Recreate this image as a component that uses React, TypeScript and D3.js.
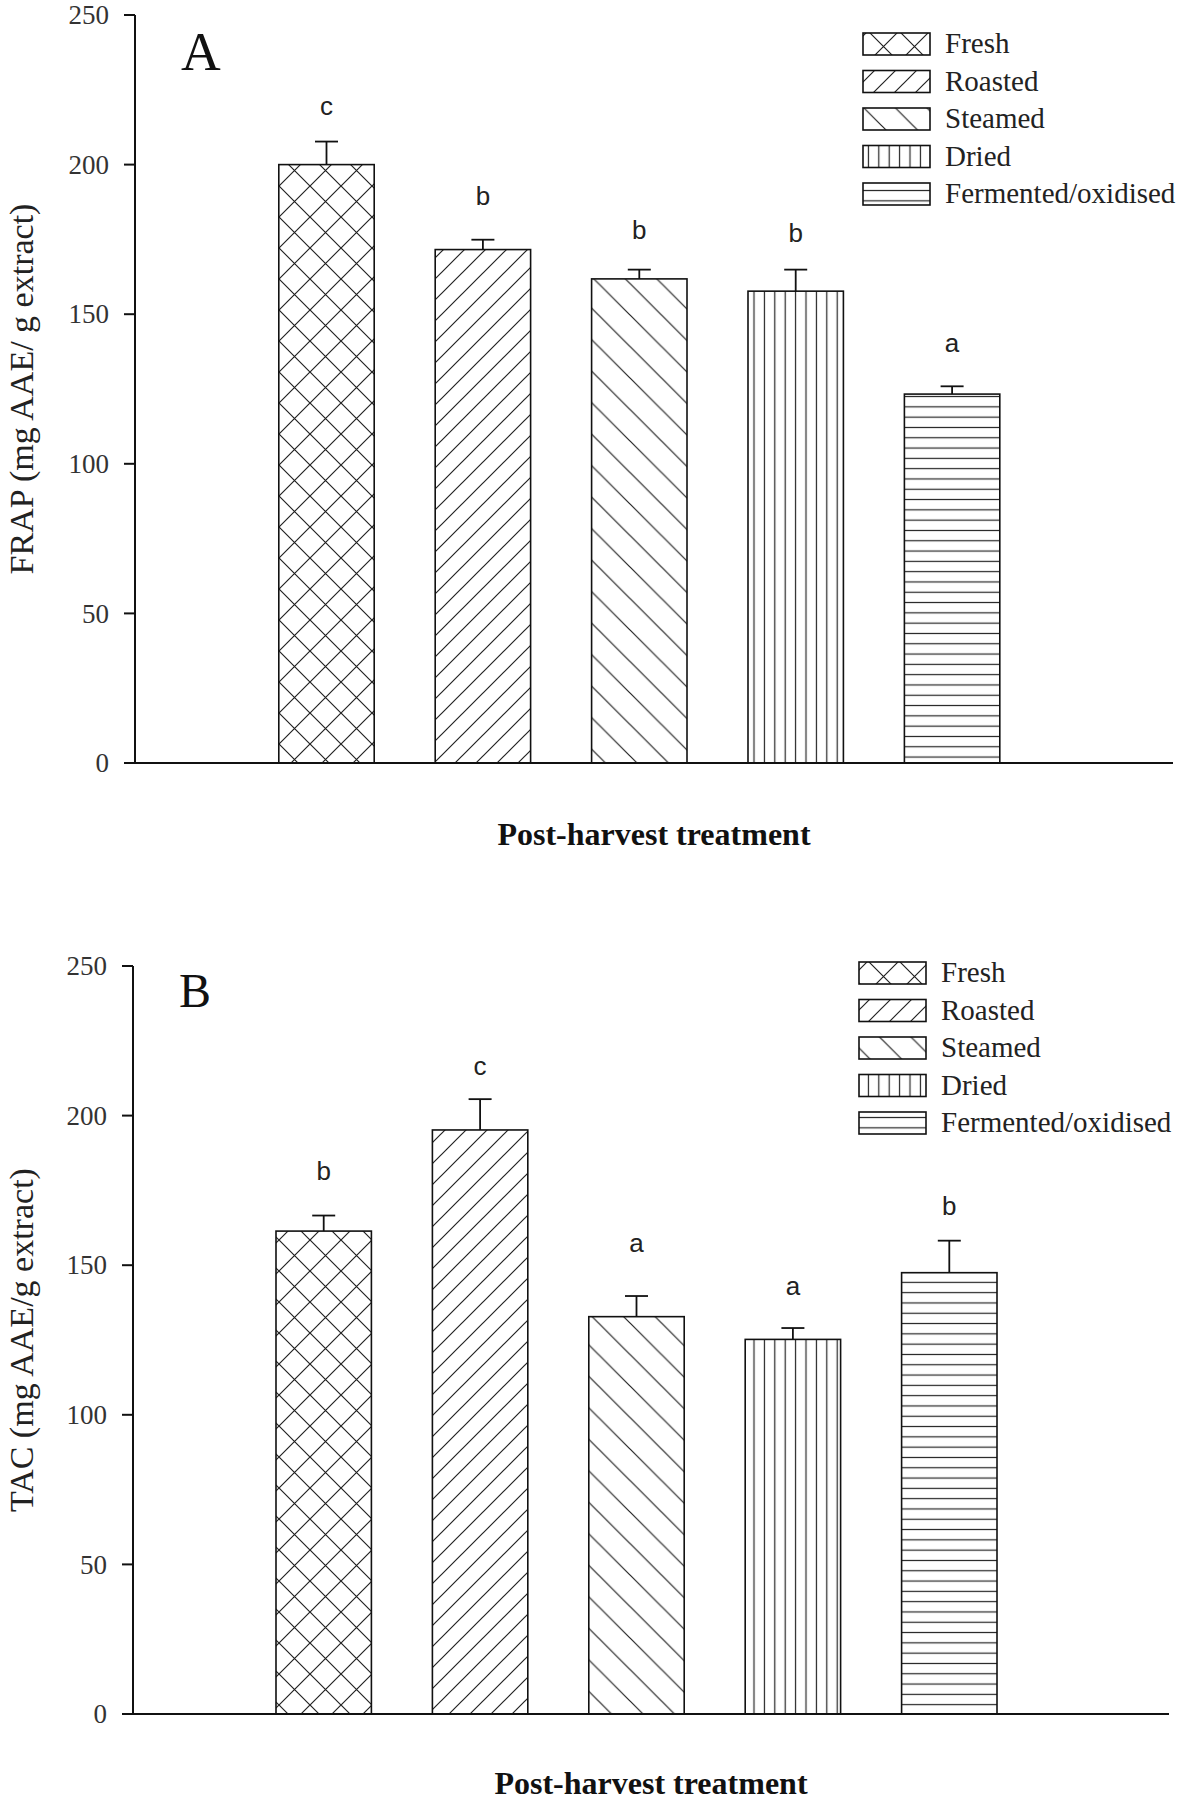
import React from "react";
import * as d3 from "d3";

const categories = ["Fresh", "Roasted", "Steamed", "Dried", "Fermented/oxidised"];
const patternIds = ["patCross", "patFwd", "patBack", "patVert", "patHoriz"];

const frapMeans = [200, 171.6, 161.8, 157.7, 123.3];
const frapErr = [7.7, 3.3, 3.1, 7.2, 2.6];
const frapLetters = ["c", "b", "b", "b", "a"];
const frapLetterAt = [216.6, 186.5, 175.1, 174.1, 137.4];

const tacMeans = [161.4, 195.2, 132.8, 125.2, 147.5];
const tacErr = [5.2, 10.3, 6.9, 3.8, 10.7];
const tacLetters = ["b", "c", "a", "a", "b"];
const tacLetterAt = [178.5, 213.6, 154.4, 140.0, 166.8];

const yTicks = [0, 50, 100, 150, 200, 250];

const SERIF = "'Liberation Serif', 'Times New Roman', serif";
const SANS = "'Liberation Sans', Arial, sans-serif";

function Patterns() {
  const ink = "#222";
  const sw = 1.2;
  const pc = 31;
  const pf = 21;
  const pb = 31.5;
  const diagF = (p: number) =>
    `M0,${p} L${p},0 M${-p / 4},${p / 4} L${p / 4},${-p / 4} M${(3 * p) / 4},${(5 * p) / 4} L${(5 * p) / 4},${(3 * p) / 4}`;
  const diagB = (p: number) =>
    `M0,0 L${p},${p} M${-p / 4},${(3 * p) / 4} L${p / 4},${(5 * p) / 4} M${(3 * p) / 4},${-p / 4} L${(5 * p) / 4},${p / 4}`;
  return (
    <defs>
      <pattern id="patCross" patternUnits="userSpaceOnUse" width={pc} height={pc}>
        <path d={diagF(pc) + " " + diagB(pc)} stroke={ink} strokeWidth={sw} fill="none" />
      </pattern>
      <pattern id="patFwd" patternUnits="userSpaceOnUse" width={pf} height={pf}>
        <path d={diagF(pf)} stroke={ink} strokeWidth={sw} fill="none" />
      </pattern>
      <pattern id="patBack" patternUnits="userSpaceOnUse" width={pb} height={pb}>
        <path d={diagB(pb)} stroke={ink} strokeWidth={sw} fill="none" />
      </pattern>
      <pattern id="patVert" patternUnits="userSpaceOnUse" width={10.4} height={10}>
        <path d="M5.2,0 L5.2,10" stroke={ink} strokeWidth={sw} fill="none" />
      </pattern>
      <pattern id="patHoriz" patternUnits="userSpaceOnUse" width={10} height={10.3}>
        <path d="M0,5.15 L10,5.15" stroke={ink} strokeWidth={sw} fill="none" />
      </pattern>
    </defs>
  );
}

type PanelProps = {
  label: string;
  labelSize: number;
  labelX: number;
  labelY: number;
  yTitle: string;
  means: number[];
  errs: number[];
  letters: string[];
  letterAt: number[];
  yTop: number;
  yBottom: number;
  axisX: number;
  axisEnd: number;
  bandStart: number;
  bandEnd: number;
  legendX: number;
  legendY: number;
  xTitleY: number;
};

function Panel(p: PanelProps) {
  const y = d3.scaleLinear().domain([0, 250]).range([p.yBottom, p.yTop]);
  const x = d3
    .scaleBand<string>()
    .domain(categories)
    .range([p.bandStart, p.bandEnd])
    .paddingInner(0.39)
    .paddingOuter(0.195);
  const bw = x.bandwidth();
  const ink = "#111";
  const legendStep = 37.5;
  return (
    <g>
      {categories.map((c, i) => {
        const x0 = x(c) as number;
        const top = y(p.means[i]);
        const h = y(0) - top;
        const cx = x0 + bw / 2;
        const capY = y(p.means[i] + p.errs[i]);
        return (
          <g key={c}>
            <rect x={x0} y={top} width={bw} height={h} fill="#fff" />
            <rect x={x0} y={top} width={bw} height={h} fill={`url(#${patternIds[i]})`} stroke={ink} strokeWidth={1.6} />
            <line x1={cx} x2={cx} y1={top} y2={capY} stroke={ink} strokeWidth={1.8} />
            <line x1={cx - 11.5} x2={cx + 11.5} y1={capY} y2={capY} stroke={ink} strokeWidth={1.8} />
            <text x={cx} y={y(p.letterAt[i])} textAnchor="middle" fontFamily={SANS} fontSize={26} fill="#222">
              {p.letters[i]}
            </text>
          </g>
        );
      })}
      <line x1={p.axisX} x2={p.axisX} y1={p.yTop} y2={p.yBottom} stroke={ink} strokeWidth={2} />
      <line x1={p.axisX - 11} x2={p.axisEnd} y1={p.yBottom} y2={p.yBottom} stroke={ink} strokeWidth={2} />
      {yTicks.map((t) => (
        <g key={t}>
          <line x1={p.axisX - 11} x2={p.axisX} y1={y(t)} y2={y(t)} stroke={ink} strokeWidth={2} />
          <text
            x={p.axisX - 26}
            y={y(t)}
            dy="0.34em"
            textAnchor="end"
            fontFamily={SERIF}
            fontSize={27}
            fill="#333"
          >
            {t}
          </text>
        </g>
      ))}
      <text
        transform={`translate(33, ${(p.yTop + p.yBottom) / 2}) rotate(-90)`}
        textAnchor="middle"
        fontFamily={SERIF}
        fontSize={34}
        fill="#222"
      >
        {p.yTitle}
      </text>
      <text
        x={(p.axisX + p.axisEnd) / 2}
        y={p.xTitleY}
        textAnchor="middle"
        fontFamily={SERIF}
        fontSize={32}
        fontWeight="bold"
        fill="#111"
      >
        Post-harvest treatment
      </text>
      <text x={p.labelX} y={p.labelY} fontFamily={SERIF} fontSize={p.labelSize} fill="#111">
        {p.label}
      </text>
      {categories.map((c, i) => {
        const ly = p.legendY + i * legendStep;
        return (
          <g key={"lg" + c}>
            <rect x={p.legendX} y={ly} width={67} height={22} fill="#fff" />
            <rect
              x={p.legendX}
              y={ly}
              width={67}
              height={22}
              fill={`url(#${patternIds[i]})`}
              stroke={ink}
              strokeWidth={1.6}
            />
            <text x={p.legendX + 82} y={ly + 20} fontFamily={SERIF} fontSize={29} fill="#222">
              {c}
            </text>
          </g>
        );
      })}
    </g>
  );
}

export default function App() {
  return (
    <svg
      width={1181}
      height={1804}
      viewBox="0 0 1181 1804"
      style={{ position: "absolute", left: 0, top: 0, background: "#fff" }}
    >
      <rect x={0} y={0} width={1181} height={1804} fill="#fff" />
      <Patterns />
      <Panel
        label="A"
        labelSize={55}
        labelX={181}
        labelY={70}
        yTitle="FRAP (mg AAE/ g extract)"
        means={frapMeans}
        errs={frapErr}
        letters={frapLetters}
        letterAt={frapLetterAt}
        yTop={15}
        yBottom={763}
        axisX={135}
        axisEnd={1173}
        bandStart={248.3}
        bandEnd={1030.3}
        legendX={863}
        legendY={33}
        xTitleY={845}
      />
      <Panel
        label="B"
        labelSize={48}
        labelX={179}
        labelY={1007}
        yTitle="TAC (mg AAE/g extract)"
        means={tacMeans}
        errs={tacErr}
        letters={tacLetters}
        letterAt={tacLetterAt}
        yTop={966}
        yBottom={1714}
        axisX={133}
        axisEnd={1169}
        bandStart={245.5}
        bandEnd={1027.5}
        legendX={859}
        legendY={962}
        xTitleY={1794}
      />
    </svg>
  );
}
